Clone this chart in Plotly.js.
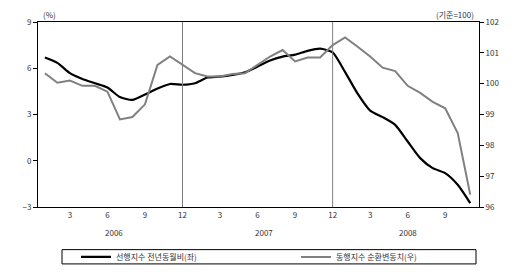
<!DOCTYPE html>
<html>
<head>
<meta charset="utf-8">
<script src="https://cdn.plot.ly/plotly-3.0.1.min.js"></script>
<style>html,body{margin:0;padding:0;background:#fff;}#chart{width:517px;height:272px;}</style>
</head>
<body>
<div id="chart"></div>
<script>
// Months Jan 2006 .. Nov 2008
const months = [
  '2006.01','2006.02','2006.03','2006.04','2006.05','2006.06','2006.07','2006.08','2006.09','2006.10','2006.11','2006.12',
  '2007.01','2007.02','2007.03','2007.04','2007.05','2007.06','2007.07','2007.08','2007.09','2007.10','2007.11','2007.12',
  '2008.01','2008.02','2008.03','2008.04','2008.05','2008.06','2008.07','2008.08','2008.09','2008.10','2008.11'
];
// 선행지수 전년동월비 (%, left axis)
const leadingYoY = [6.70,6.35,5.68,5.30,5.03,4.75,4.13,3.95,4.30,4.68,4.98,4.93,
                    5.03,5.40,5.46,5.57,5.74,6.11,6.50,6.75,6.88,7.13,7.27,7.03,
                    5.75,4.35,3.25,2.83,2.33,1.25,0.17,-0.48,-0.80,-1.56,-2.75];
// 동행지수 순환변동치 (기준=100, right axis)
const coincidentCycle = [100.34,100.03,100.10,99.93,99.93,99.74,98.84,98.92,99.33,100.61,100.88,100.61,
                         100.34,100.23,100.23,100.31,100.34,100.61,100.88,101.09,100.72,100.85,100.85,101.25,
                         101.50,101.20,100.88,100.52,100.41,99.93,99.70,99.41,99.20,98.40,96.40];
const tickMonths = ['2006.03','2006.06','2006.09','2006.12','2007.03','2007.06','2007.09','2007.12','2008.03','2008.06','2008.09'];
const tickText = ['3','6','9','12','3','6','9','12','3','6','9'];
const years = ['2006','2007','2008'];
const yearCenters = [5.5, 17.5, 29];
const dividers = ['2006.12','2007.12'];
const seriesNames = ['선행지수 전년동월비(좌)','동행지수 순환변동치(우)'];

const FONT = 'Noto Sans CJK KR, DejaVu Sans, sans-serif';
const W = 517, H = 272, L = 38, R = 38, T = 22, B = 64.7;
const pw = W - L - R, ph = H - T - B;
const px = x => (x - L) / pw;
const py = y => (H - B - y) / ph;

const traces = [
  {x: months, y: leadingYoY, name: seriesNames[0], type: 'scatter', mode: 'lines',
   line: {color: '#000000', width: 2.2, shape: 'spline', smoothing: 0.6}, yaxis: 'y', legend: 'legend'},
  {x: months, y: coincidentCycle, name: seriesNames[1], type: 'scatter', mode: 'lines',
   line: {color: '#808080', width: 2}, yaxis: 'y2', legend: 'legend2'}
];

const shapes = dividers.map(d => ({type: 'line', xref: 'x', yref: 'paper', x0: months.indexOf(d), x1: months.indexOf(d), y0: 0, y1: 1,
  line: {color: '#808080', width: 1}}));
shapes.push({type: 'rect', xref: 'paper', yref: 'paper', x0: px(62), x1: px(476), y0: py(264.3), y1: py(250),
  line: {color: '#000', width: 1}, fillcolor: 'rgba(0,0,0,0)'});

const annotations = years.map((yr, i) => ({text: yr, x: yearCenters[i], xref: 'x', y: py(232.7), yref: 'paper',
  showarrow: false, font: {family: FONT, size: 8, color: '#333'}, xanchor: 'center', yanchor: 'middle'}));
annotations.push({text: '(%)', x: px(41), y: py(14), xref: 'paper', yref: 'paper', xanchor: 'left', yanchor: 'middle',
  showarrow: false, font: {family: FONT, size: 8, color: '#333'}});
annotations.push({text: '(기준=100)', x: px(476), y: py(14), xref: 'paper', yref: 'paper', xanchor: 'right', yanchor: 'middle',
  showarrow: false, font: {family: FONT, size: 8, color: '#333'}});

const legendBase = {orientation: 'h', xanchor: 'left', y: py(257.3), yanchor: 'middle',
  font: {family: FONT, size: 8, color: '#333'}, bgcolor: 'rgba(0,0,0,0)', borderwidth: 0, itemwidth: 30};

const layout = {
  width: W, height: H,
  margin: {l: L, r: R, t: T, b: B, pad: 0, autoexpand: false},
  paper_bgcolor: '#fff', plot_bgcolor: '#fff',
  font: {family: FONT, size: 8, color: '#333'},
  showlegend: true,
  legend: Object.assign({}, legendBase, {x: px(76)}),
  legend2: Object.assign({}, legendBase, {x: px(296)}),
  xaxis: {type: 'category', range: [-0.55, 34.7], tickvals: tickMonths, ticktext: tickText,
    showline: true, linecolor: '#000', linewidth: 1, mirror: true, ticks: '', showgrid: false, zeroline: false,
    tickfont: {family: FONT, size: 8, color: '#333'}, tickangle: 0},
  yaxis: {range: [-3, 9], dtick: 3, tick0: 0, showline: true, linecolor: '#000', linewidth: 1,
    ticks: 'outside', ticklen: 4, tickcolor: '#000', showgrid: false, zeroline: false,
    tickfont: {family: FONT, size: 8, color: '#333'}},
  yaxis2: {range: [96, 102], dtick: 1, overlaying: 'y', side: 'right', showline: true, linecolor: '#000', linewidth: 1,
    ticks: 'outside', ticklen: 4, tickcolor: '#000', showgrid: false, zeroline: false,
    tickfont: {family: FONT, size: 8, color: '#333'}},
  shapes: shapes,
  annotations: annotations
};

Plotly.newPlot('chart', traces, layout, {displayModeBar: false, staticPlot: true});
</script>
</body>
</html>
